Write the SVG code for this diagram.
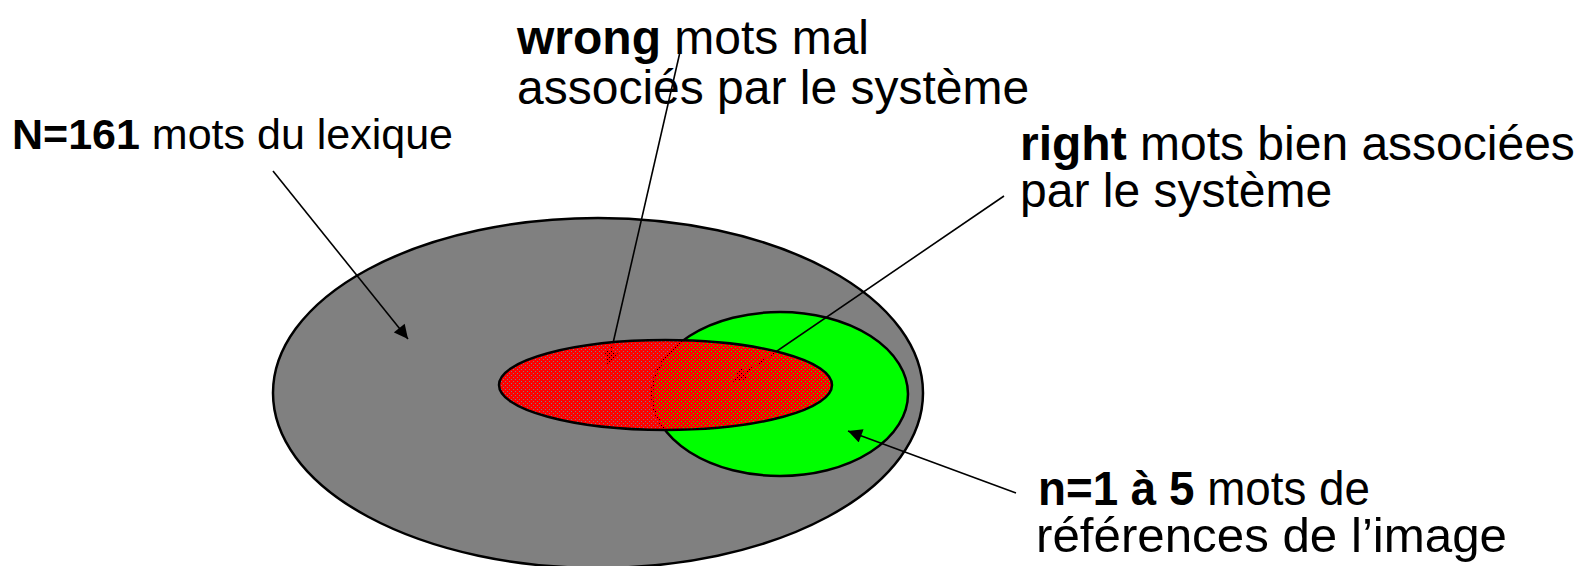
<svg xmlns="http://www.w3.org/2000/svg" width="1577" height="566" viewBox="0 0 1577 566">
<style>
.t{font-family:"Liberation Sans",Arial,sans-serif;font-size:48px;fill:#000}
.b{font-weight:bold}
.conn{stroke:#000;stroke-width:1.6;fill:none;marker-end:url(#ah)}
.shape{stroke:#000;stroke-width:2.5}
</style>
<defs>
<marker id="ah" viewBox="0 0 10 10" refX="10" refY="5" markerWidth="15" markerHeight="14" markerUnits="userSpaceOnUse" orient="auto">
<path d="M0,0 L10,5 L0,10 z" fill="#000"/>
</marker>
<pattern id="redp" width="4" height="4" patternUnits="userSpaceOnUse">
<path d="M0,0h4v4h-4z M1,1v1h1v-1z M3,3v1h1v-1z" fill="#ff0000" fill-rule="evenodd"/>
</pattern>
</defs>
<g id="lexique"><ellipse cx="598" cy="393" rx="325" ry="175" fill="#808080" class="shape"/></g>
<g id="references"><ellipse cx="780" cy="394" rx="128" ry="82" fill="#00ff00" class="shape"/></g>
<g id="connectors">
<line class="conn" x1="273" y1="171" x2="408" y2="339"/>
<line class="conn" x1="680" y1="52" x2="608" y2="365"/>
<line class="conn" x1="1004" y1="196" x2="733" y2="381"/>
<line class="conn" x1="1016" y1="493" x2="848" y2="431"/>
</g>
<g id="wrong"><ellipse cx="665.5" cy="385" rx="166.5" ry="45" fill="url(#redp)" class="shape"/></g>
<g id="label-N"><text class="t" x="12" y="149" style="font-size:43px"><tspan class="b">N=161</tspan> mots du lexique</text></g>
<g id="label-wrong"><text class="t" x="517" y="54"><tspan class="b">wrong</tspan> mots mal</text><text class="t" x="517" y="104">associés par le système</text></g>
<g id="label-right"><text class="t" x="1020" y="160"><tspan class="b">right</tspan> mots bien associées</text><text class="t" x="1020" y="207">par le système</text></g>
<g id="label-n"><text class="t" x="1038" y="505" textLength="332" lengthAdjust="spacingAndGlyphs"><tspan class="b">n=1 à 5</tspan> mots de</text><text class="t" x="1036" y="552" textLength="471" lengthAdjust="spacingAndGlyphs">références de l’image</text></g>
</svg>
